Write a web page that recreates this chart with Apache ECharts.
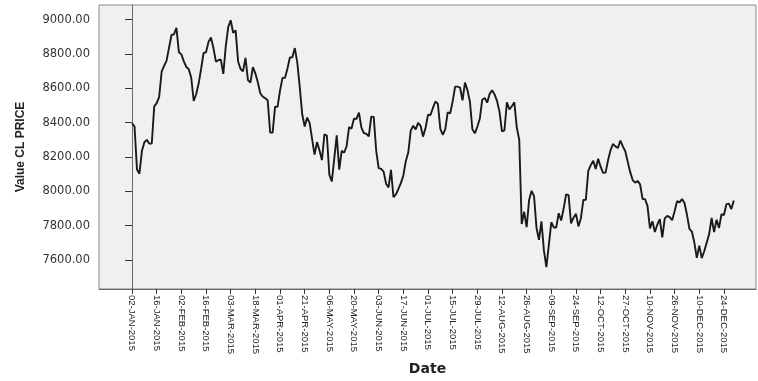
<!DOCTYPE html>
<html>
<head>
<meta charset="utf-8">
<script src="https://cdn.jsdelivr.net/npm/echarts@6/dist/echarts.min.js"></script>
<style>html,body{margin:0;padding:0;background:#fff;}#c{width:758px;height:381px;}</style>
</head>
<body>
<div id="c"></div>
<script>
// Daily closing values (CL PRICE), 245 trading days, 02-JAN-2015 .. 31-DEC-2015
var valJan = [8395, 8378, 8127, 8102, 8235, 8285, 8299, 8277, 8278, 8494, 8513, 8550, 8696, 8730, 8761, 8836, 8910, 8914, 8952, 8809];
var valFeb = [8797, 8756, 8724, 8711, 8661, 8526, 8565, 8627, 8712, 8805, 8809, 8870, 8895, 8834, 8755, 8763, 8767, 8683, 8844];
var valMar = [8956, 8996, 8923, 8937, 8756, 8712, 8699, 8777, 8647, 8633, 8723, 8686, 8635, 8571, 8550, 8542, 8530, 8342, 8341, 8493, 8491];
var valApr = [8586, 8660, 8660, 8714, 8779, 8780, 8834, 8750, 8606, 8448, 8377, 8429, 8398, 8305, 8213, 8286, 8239, 8181];
var valMay = [8331, 8324, 8097, 8057, 8191, 8325, 8126, 8235, 8224, 8262, 8373, 8365, 8423, 8421, 8458, 8370, 8339, 8334, 8319, 8434];
var valJun = [8433, 8236, 8135, 8130, 8114, 8044, 8022, 8124, 7965, 7982, 8013, 8047, 8092, 8175, 8225, 8353, 8381, 8360, 8398, 8381, 8318, 8368];
var valJul = [8445, 8444, 8485, 8522, 8510, 8363, 8329, 8360, 8459, 8454, 8523, 8609, 8609, 8604, 8529, 8633, 8589, 8521, 8361, 8337, 8375, 8422, 8533];
var valAug = [8543, 8516, 8567, 8588, 8564, 8525, 8462, 8349, 8355, 8518, 8477, 8495, 8518, 8372, 8300, 7809, 7880, 7791, 7949, 8002, 7971];
var valSep = [7786, 7717, 7824, 7655, 7558, 7688, 7819, 7789, 7789, 7872, 7829, 7899, 7982, 7977, 7812, 7846, 7868, 7795, 7843, 7949];
var valOct = [7950, 8119, 8152, 8177, 8129, 8189, 8143, 8107, 8108, 8180, 8238, 8275, 8261, 8252, 8295, 8261, 8233, 8171, 8111, 8065];
var valNov = [8050, 8060, 8040, 7955, 7954, 7915, 7783, 7825, 7762, 7806, 7837, 7731, 7842, 7856, 7849, 7831, 7884, 7942, 7935];
var valDec = [7954, 7931, 7864, 7781, 7765, 7701, 7612, 7683, 7610, 7650, 7700, 7750, 7844, 7762, 7834, 7786, 7866, 7861, 7925, 7928, 7896, 7946];

// Tick labels, one every 10 trading days
var dateTickLabels = ['02-JAN-2015', '16-JAN-2015', '02-FEB-2015', '16-FEB-2015', '03-MAR-2015', '18-MAR-2015',
  '01-APR-2015', '21-APR-2015', '06-MAY-2015', '20-MAY-2015', '03-JUN-2015', '17-JUN-2015', '01-JUL-2015',
  '15-JUL-2015', '29-JUL-2015', '12-AUG-2015', '26-AUG-2015', '09-SEP-2015', '24-SEP-2015', '12-OCT-2015',
  '27-OCT-2015', '10-NOV-2015', '26-NOV-2015', '10-DEC-2015', '24-DEC-2015'];
var yTickValues = [7600, 7800, 8000, 8200, 8400, 8600, 8800, 9000];

var values = [].concat(valJan, valFeb, valMar, valApr, valMay, valJun, valJul, valAug, valSep, valOct, valNov, valDec);
var seriesData = values.map(function (v, i) { return [i, v]; });
var xTickValues = dateTickLabels.map(function (d, k) { return k * 10; });

var chart = echarts.init(document.getElementById('c'), null, {renderer: 'canvas'});
chart.setOption({
  animation: false,
  backgroundColor: '#ffffff',
  grid: {
    left: 99, top: 5, right: 2, bottom: 83,
    show: true, backgroundColor: '#f0f0f0', borderColor: '#8a8a8a', borderWidth: 1
  },
  xAxis: {
    type: 'value',
    min: -13.4, max: 253,
    name: 'Date', nameLocation: 'middle', nameGap: 70,
    nameTextStyle: {fontFamily: 'DejaVu Sans', fontWeight: 'bold', fontSize: 14, color: '#222'},
    axisLine: {show: true, lineStyle: {color: '#6a6a6a', width: 1}},
    axisTick: {show: true, customValues: xTickValues, length: 5, lineStyle: {color: '#333'}},
    axisLabel: {
      customValues: xTickValues, rotate: -90, margin: 6,
      fontFamily: 'Liberation Sans', fontSize: 9.5, color: '#222',
      formatter: function (v) { return dateTickLabels[Math.round(v / 10)] || ''; }
    },
    splitLine: {show: false}
  },
  yAxis: {
    type: 'value',
    min: 7430.6, max: 9084.7,
    name: 'Value CL PRICE', nameLocation: 'middle', nameGap: 72, nameRotate: 90,
    nameTextStyle: {fontFamily: 'Liberation Sans', fontWeight: 'bold', fontSize: 12, color: '#222'},
    axisLine: {show: true, lineStyle: {color: '#6a6a6a', width: 1}},
    axisTick: {show: true, customValues: yTickValues, length: 7, lineStyle: {color: '#333'}},
    axisLabel: {
      customValues: yTickValues, margin: 9,
      fontFamily: 'DejaVu Sans', fontSize: 11.5, color: '#333',
      formatter: function (v) { return v.toFixed(2); }
    },
    splitLine: {show: false}
  },
  series: [{
    type: 'line',
    data: seriesData,
    showSymbol: false,
    lineStyle: {color: '#1a1a1a', width: 1.9},
    itemStyle: {color: '#1a1a1a'}
  }]
});
</script>
</body>
</html>
